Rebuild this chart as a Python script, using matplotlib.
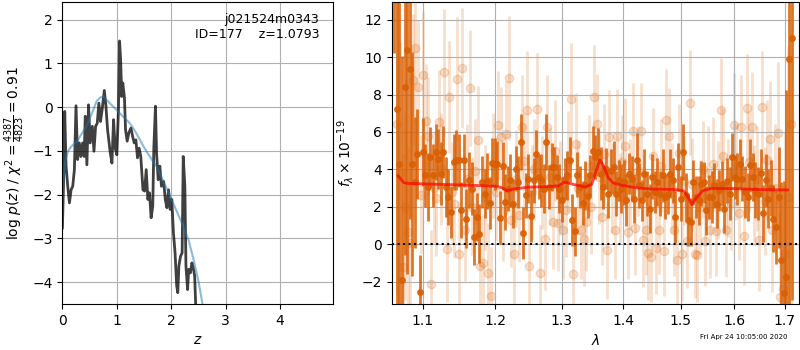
import numpy as np
import matplotlib
matplotlib.use('Agg')
import matplotlib.pyplot as plt
from matplotlib.ticker import FixedLocator, FixedFormatter, NullLocator

# --- p(z) panel -------------------------------------------------------
pz_z = [0.0, 0.02, 0.043, 0.067, 0.098, 0.129, 0.16, 0.19, 0.22, 0.25,
        0.28, 0.31, 0.34, 0.37, 0.40, 0.42, 0.45, 0.48, 0.51, 0.55,
        0.58, 0.61, 0.64, 0.67, 0.70, 0.73, 0.77, 0.80, 0.83, 0.88,
        0.91, 0.94, 0.97, 1.0, 1.03, 1.05, 1.07, 1.09, 1.11, 1.14,
        1.16, 1.19, 1.22, 1.26, 1.29, 1.32, 1.35, 1.38, 1.41, 1.44,
        1.48, 1.51, 1.54, 1.57, 1.60, 1.63, 1.66, 1.68, 1.71, 1.73,
        1.76, 1.79, 1.82, 1.86, 1.89, 1.92, 1.95, 1.98, 2.01, 2.04,
        2.07, 2.10, 2.12, 2.14, 2.17, 2.20, 2.22, 2.25, 2.27, 2.30,
        2.32, 2.35, 2.38, 2.41, 2.43, 2.45, 2.50]
pz_logp = [-2.76, -1.81, -0.10, -1.35, -1.81, -2.19, -1.89, -1.81, -1.43, 0.03,
           -1.20, -0.82, -1.13, -0.82, -1.13, -0.21, -1.32, 0.05, -0.82, -0.44,
           -1.01, -0.44, -0.37, 0.09, -0.33, -0.06, 0.38, 0.02, -0.52, -1.05,
           -1.28, -0.29, -0.94, -1.09, -0.06, 1.51, 1.08, 0.24, 0.55, 0.21,
           -0.52, -0.78, -0.59, -0.48, -0.67, -0.82, -0.75, -1.16, -0.94, -1.13,
           -1.89, -1.92, -1.43, -2.11, -1.96, -2.53, -2.27, -0.92, 0.02, -1.05,
           -1.66, -1.35, -1.81, -1.70, -2.11, -2.30, -1.89, -2.34, -2.11, -2.87,
           -3.33, -4.09, -4.24, -3.63, -3.41, -3.33, -1.13, -1.81, -3.63, -4.17,
           -3.71, -3.79, -3.56, -3.71, -3.86, -4.55, -6.0]

prior_z = [0.0, 0.02, 0.05, 0.10, 0.15, 0.20, 0.26, 0.35, 0.45, 0.55,
           0.63, 0.70, 0.75, 0.80, 0.90, 1.0, 1.1, 1.24, 1.35, 1.49,
           1.6, 1.73, 1.85, 1.98, 2.1, 2.22, 2.32, 2.41, 2.50, 2.57, 2.7]
prior_logp = [-2.0, -1.66, -1.25, -1.02, -0.92, -0.86, -0.80, -0.62, -0.42, -0.12,
              0.14, 0.22, 0.24, 0.18, 0.05, -0.07, -0.20, -0.37, -0.58, -0.90,
              -1.12, -1.36, -1.68, -2.04, -2.38, -2.72, -3.05, -3.48, -3.98, -4.47, -5.6]

chi2, nfit = 4387, 4823
label_root = 'j021524m0343'
obj_id, z_best = 177, 1.0793

# --- spectrum panel ---------------------------------------------------
dark_flux = [22.0, 7.24, 4.30, -1.92, 8.43, 10.4, 9.37, 4.30, 3.30, 4.84,
             -2.58, 4.92, 3.68, 3.06, 4.66, 3.68, 4.92, 4.57, 3.77, 4.92,
             3.06, 2.52, 1.72, 4.39, 4.48, 4.48, 1.81, 4.48, 1.37, 3.41,
             2.97, 0.39, 1.46, 0.57, 3.32, 2.70, 3.40, 2.20, 4.36, 4.30,
             4.30, 1.42, 4.18, 2.26, 2.97, 3.41, 2.17, 4.04, 3.32, 5.46,
             0.60, 2.61, 3.50, 1.49, 3.41, 4.80, 3.59, 3.41, 2.97, 5.46,
             3.06, 4.12, 4.12, 3.59, 2.97, 2.38, 3.50, 3.68, 4.52, 1.28,
             0.69, 3.72, 3.06, 2.20, 3.15, 2.60, 3.68, 5.00,
             4.66, 4.92, 3.77, 3.06, 4.04, 2.70, 3.90, 4.12, 2.70, 3.41,
             2.97, 3.30, 2.35, 3.77, 3.50, 2.44, 4.52, 3.15, 2.35, 3.77,
             2.70, 1.90, 3.60, 2.79, 3.32, 2.70, 3.68, 2.52, 2.70, 3.77,
             3.41, 1.46, 4.12, 2.44, 4.92, 2.61, 1.28, 1.19, 3.32, 2.52,
             2.35, 3.24, 3.32, 1.81, 2.52, 2.52, 3.15, 2.17, 2.88, 3.24,
             1.90, 3.40, 2.70, 4.66, 3.59, 3.50, 4.30, 3.50, 2.79, 2.52,
             4.21, 3.59, 2.88, 2.70, 3.80, 1.64, 3.41, 2.44, 3.00, 1.37,
             0.92, 2.52, -0.85, -2.60, -1.74, 9.90, 11.0]
dark_err = [11.8, 14.0, 10.0, 12.0, 9.0, 12.0, 8.0, 6.0, 3.5, 2.4,
            2.0, 1.8, 1.7, 1.8, 1.6, 1.7, 1.5, 1.6, 1.7, 1.4,
            1.6, 1.5, 1.4, 1.5, 1.6, 1.4, 1.5, 1.4, 1.6, 1.5,
            1.4, 1.5, 1.3, 1.6, 1.4, 1.3, 1.5, 1.4, 1.3, 1.4,
            1.2, 1.4, 1.3, 1.5, 1.2, 1.4, 1.3, 1.2, 1.4, 1.5,
            1.4, 1.2, 1.3, 1.4, 1.2, 1.3, 1.2, 1.4, 1.3, 1.5,
            1.2, 1.3, 1.1, 1.2, 1.3, 1.2, 1.1, 1.3, 1.2, 1.4,
            1.3, 1.2, 1.1, 1.2, 1.3, 1.2, 1.1, 1.3,
            1.2, 1.3, 1.4, 1.2, 1.1, 1.3, 1.2, 1.4, 1.2, 1.1,
            1.3, 1.2, 1.4, 1.1, 1.2, 1.3, 1.4, 1.2, 1.1, 1.3,
            1.2, 1.3, 1.2, 1.1, 1.3, 1.2, 1.4, 1.2, 1.1, 1.3,
            1.2, 1.4, 1.3, 1.2, 1.5, 1.2, 1.4, 1.3, 1.2, 1.1,
            1.3, 1.2, 1.1, 1.3, 1.2, 1.4, 1.2, 1.3, 1.1, 1.2,
            1.3, 1.2, 1.4, 1.3, 1.2, 1.4, 1.3, 1.2, 1.4, 1.3,
            1.4, 1.3, 1.5, 1.4, 1.3, 1.5, 1.4, 1.6, 1.5, 1.8,
            2.0, 2.7, 4.2, 6.0, 10.0, 14.0, 14.0]

light_flux = [6.40, 3.80, -1.20, 2.00, 0.66, 0.04, 8.80, 10.5, 8.40, 2.65,
              9.07, 6.61, 5.76, -2.13, 3.00, 2.49, 6.52, 4.00, 9.19, -0.28,
              7.86, 2.79, 2.17, 8.84, -0.50, 9.42, 0.75, 3.50, 8.36, 2.00,
              3.90, 5.55, -1.17, -1.00, 2.50, -1.56, -2.77, 4.20, 2.79, 6.38,
              5.72, 1.72, 5.90, 8.89, 1.28, -0.50, 3.50, 1.55, 6.26, 4.44,
              7.15, -1.17, 2.80, 4.00, 7.24, -1.56, 3.30, 0.25, 6.26, 3.60,
              1.19, 5.00, 1.14, 3.00, 0.75, 1.81, 4.40, 7.77, -1.60, 5.37,
              3.00, 0.75, 0.25, 1.19, 4.20, 2.00, 7.86,
              6.40, 3.60, 1.46, 4.80, -0.32, 5.72, 3.00, 0.75, 5.81, 2.50,
              4.40, 5.23, 0.66, 3.20, 6.04, 0.84, 3.90, 6.04, 0.21, 0.75,
              -0.46, -0.68, 4.70, -0.18, 0.78, 4.20, -0.36, 6.65, 5.76, 3.00,
              0.78, -0.85, 4.90, -0.53, 3.40, 0.18, 7.56, 3.20, -0.50, -0.59,
              2.00, 4.00, 0.18, 3.80, 0.78, 4.30, 0.71, 2.90, 7.15, 4.69,
              0.75, 3.00, 2.20, 6.35, 3.90, 1.64, 6.26, 0.43, 7.29, 4.40,
              6.29, 2.60, 3.50, 0.21, 7.32, 2.30, 4.50, 5.64, 0.75, 3.00,
              5.94, -2.80, -2.40, -0.50, 2.50, 6.40]
light_err = [9.0, 7.0, 6.0, 5.0, 4.5, 4.0, 3.5, 4.0, 3.6, 3.2,
             3.4, 3.0, 3.2, 2.9, 3.0, 3.1, 2.8, 3.0, 3.4, 2.8,
             3.0, 2.7, 2.9, 3.3, 2.8, 3.2, 2.7, 2.9, 3.1, 2.6,
             2.8, 2.9, 2.7, 2.6, 2.8, 2.7, 2.6, 2.8, 2.6, 2.9,
             2.7, 2.6, 2.8, 3.3, 2.5, 2.7, 2.6, 2.5, 2.8, 2.6,
             3.2, 2.6, 2.5, 2.7, 3.0, 2.6, 2.5, 2.7, 2.8, 2.6,
             2.5, 2.7, 2.6, 2.5, 2.6, 2.5, 2.7, 3.0, 2.6, 2.7,
             2.5, 2.6, 2.5, 2.6, 2.7, 2.5, 2.8,
             2.7, 2.5, 2.6, 2.7, 2.6, 2.5, 2.4, 2.6, 2.5, 2.4,
             2.5, 2.6, 2.5, 2.4, 2.6, 2.5, 2.4, 2.6, 2.5, 2.4,
             2.5, 2.4, 2.6, 2.5, 2.4, 2.5, 2.4, 2.7, 2.6, 2.4,
             2.5, 2.4, 2.6, 2.5, 2.4, 2.5, 2.8, 2.5, 2.4, 2.5,
             2.5, 2.6, 2.4, 2.5, 2.6, 2.5, 2.4, 2.6, 2.8, 2.6,
             2.5, 2.6, 2.5, 2.8, 2.6, 2.5, 2.8, 2.6, 2.9, 2.7,
             2.9, 2.7, 2.8, 2.7, 3.0, 2.9, 3.2, 3.1, 3.3, 3.4,
             3.8, 4.5, 5.5, 6.5, 8.0, 10.0]

# spectral pixels are on a regular log-wavelength grid
dark_wave = np.geomspace(1.063, 1.714, len(dark_flux))
light_wave = np.geomspace(1.067, 1.712, len(light_flux))

model_wave = [1.068, 1.075, 1.08, 1.15, 1.20, 1.21, 1.217, 1.23, 1.25, 1.28,
              1.295, 1.305, 1.318, 1.337, 1.348, 1.355, 1.361, 1.367, 1.375, 1.383,
              1.397, 1.426, 1.45, 1.49, 1.505, 1.513, 1.52, 1.528, 1.54, 1.555,
              1.60, 1.65, 1.706]
model_flux = [3.65, 3.30, 3.25, 3.17, 3.10, 3.02, 2.86, 2.97, 3.05, 3.08,
              3.12, 3.32, 3.20, 3.06, 3.20, 3.90, 4.52, 4.20, 3.55, 3.28,
              3.15, 3.00, 2.95, 2.92, 2.85, 2.55, 2.13, 2.45, 2.85, 2.98,
              2.97, 2.92, 2.90]

wave_ticks = [1.1, 1.2, 1.3, 1.4, 1.5, 1.6, 1.7]
stamp = 'Fri Apr 24 10:05:00 2020'

fig = plt.figure(figsize=(8, 3.5), dpi=100)
ax1 = fig.add_axes([0.078, 0.1314, 0.3388, 0.8629])
ax2 = fig.add_axes([0.4896, 0.1314, 0.5095, 0.8629])

ax1.plot(pz_z, pz_logp, color='k', alpha=0.75, lw=2)
ax1.plot(prior_z, prior_logp, color='tab:blue', alpha=0.5, lw=1.5)
ax1.set_xlim(0, 4.98)
ax1.set_ylim(-4.5, 2.4)
ax1.set_xticks([0, 1, 2, 3, 4])
ax1.set_yticks([-4, -3, -2, -1, 0, 1, 2])
ax1.grid()
ax1.set_xlabel(r'$z$')
ax1.set_ylabel(r'log $p(z)$' + ' / ' +
               r'$\chi^2=\frac{%d}{%d}=%.2f$' % (chi2, nfit, chi2 / nfit))
ax1.text(0.947, 0.965, '%s\nID=%d    z=%.4f' % (label_root, obj_id, z_best),
         transform=ax1.transAxes, ha='right', va='top', fontsize=9)

col = '#d95f02'
ax2.errorbar(light_wave, light_flux, yerr=light_err, marker='o', ms=6,
             linestyle='none', color=col, alpha=0.2, elinewidth=2, zorder=1)
ax2.errorbar(dark_wave, dark_flux, yerr=dark_err, marker='o', ms=4,
             linestyle='none', color=col, alpha=0.85, elinewidth=2, zorder=2)
ax2.plot(model_wave, model_flux, color='red', alpha=0.7, lw=2, zorder=3)
ax2.axhline(0, color='k', linestyle=':', lw=1.5, zorder=4)

ax2.set_xscale('log')
ax2.xaxis.set_major_locator(FixedLocator(wave_ticks))
ax2.xaxis.set_major_formatter(FixedFormatter(['%.1f' % w for w in wave_ticks]))
ax2.xaxis.set_minor_locator(NullLocator())
ax2.set_xlim(1.0597, 1.7301)
ax2.set_ylim(-3.2, 12.95)
ax2.set_yticks([-2, 0, 2, 4, 6, 8, 10, 12])
ax2.grid()
ax2.set_xlabel(r'$\lambda$')
ax2.set_ylabel(r'$f_\lambda\times10^{-19}$')

fig.text(0.984, 0.028, stamp, ha='right', va='bottom', fontsize=5)

fig.savefig('out.png', dpi=100)
